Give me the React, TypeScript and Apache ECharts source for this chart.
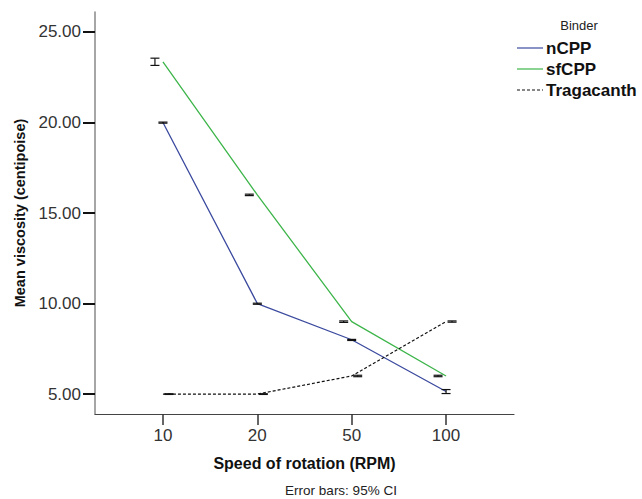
import React, { useEffect, useRef } from "react";
import * as echarts from "echarts";

const categories = ["10", "20", "50", "100"];
const seriesNames = ["nCPP", "sfCPP", "Tragacanth"];
const nCPP = [20.0, 10.0, 8.0, 5.14];
const sfCPP = [23.35, 16.0, 9.0, 6.0];
const tragacanth = [5.0, 5.0, 6.0, 9.0];
const nCPPLow = [19.96, 9.96, 7.96, 5.03];
const nCPPHigh = [20.02, 10.02, 8.02, 5.25];
const sfCPPLow = [23.15, 15.96, 8.96, 5.96];
const sfCPPHigh = [23.55, 16.04, 9.04, 6.04];
const tragLow = [4.98, 4.98, 5.96, 8.97];
const tragHigh = [5.02, 5.02, 6.04, 9.04];
const yTicks = [5, 10, 15, 20, 25];

const colors = ["#3b4a9e", "#3db54a", "#111111"];
const errOffsets = [0, -8, 6];
const FONT = "'Liberation Sans', Arial, sans-serif";

export default function App() {
  const ref = useRef<HTMLDivElement>(null);
  useEffect(() => {
    if (!ref.current) return;
    const chart = echarts.init(ref.current, null, { renderer: "svg" });
    const means = [nCPP, sfCPP, tragacanth];
    const lows = [nCPPLow, sfCPPLow, tragLow];
    const highs = [nCPPHigh, sfCPPHigh, tragHigh];

    const lineSeries = seriesNames.map((name, i) => ({
      type: "line",
      name,
      data: means[i].map((v, j) => [j, v]),
      symbol: "none",
      lineStyle: {
        color: colors[i],
        width: i === 2 ? 1.2 : 1.3,
        type: i === 2 ? [3, 2] : "solid",
      },
      z: 2,
    }));

    const errSeries = seriesNames.map((name, i) => ({
      type: "custom",
      name: name + " CI",
      data: lows[i].map((lo, j) => [j, lo, highs[i][j]]),
      encode: { x: 0, y: [1, 2] },
      z: 3,
      renderItem: (params: any, api: any) => {
        const x = api.value(0);
        const pLo = api.coord([x, api.value(1)]);
        const pHi = api.coord([x, api.value(2)]);
        const cx = pLo[0] + errOffsets[i];
        const hw = 4.5;
        const st = { stroke: "#111", lineWidth: 1.2 };
        return {
          type: "group",
          children: [
            { type: "line", shape: { x1: cx, y1: pLo[1], x2: cx, y2: pHi[1] }, style: st },
            { type: "line", shape: { x1: cx - hw, y1: pLo[1], x2: cx + hw, y2: pLo[1] }, style: st },
            { type: "line", shape: { x1: cx - hw, y1: pHi[1], x2: cx + hw, y2: pHi[1] }, style: st },
          ],
        };
      },
    }));

    const legendGraphics: any[] = [
      {
        type: "text",
        x: 579,
        y: 25,
        style: { text: "Binder", font: `13px ${FONT}`, fill: "#222", align: "center", verticalAlign: "middle" },
      },
    ];
    seriesNames.forEach((name, i) => {
      const y = 48 + i * 21;
      legendGraphics.push({
        type: "line",
        shape: { x1: 517, y1: y, x2: 543, y2: y },
        style: { stroke: colors[i], lineWidth: 1.2, lineDash: i === 2 ? [3, 2] : null },
      });
      legendGraphics.push({
        type: "text",
        x: 546,
        y: y,
        style: {
          text: name,
          font: `bold 17px ${FONT}`,
          fill: "#111",
          verticalAlign: "middle",
        },
      });
    });
    legendGraphics.push({
      type: "text",
      x: 341,
      y: 490,
      style: {
        text: "Error bars: 95% CI",
        font: `13.5px ${FONT}`,
        fill: "#222",
        align: "center",
        verticalAlign: "middle",
      },
    });

    chart.setOption({
      animation: false,
      backgroundColor: "#ffffff",
      grid: { left: 95, right: 128, top: 12, bottom: 85, containLabel: false },
      xAxis: {
        type: "value",
        min: -0.72,
        max: 3.72,
        name: "Speed of rotation (RPM)",
        nameLocation: "middle",
        nameGap: 41,
        nameTextStyle: { fontFamily: FONT, fontWeight: "bold", fontSize: 16, color: "#111" },
        axisLine: { onZero: false, lineStyle: { color: "#444", width: 1.2 } },
        axisTick: { show: true, customValues: [0, 1, 2, 3], length: 11, lineStyle: { color: "#333", width: 1.5 } },
        axisLabel: {
          customValues: [0, 1, 2, 3],
          formatter: (v: number) => categories[Math.round(v)] ?? "",
          fontFamily: FONT,
          fontSize: 17,
          color: "#333",
          margin: 13,
        },
        splitLine: { show: false },
      },
      yAxis: {
        type: "value",
        min: 3.9,
        max: 26.1,
        name: "Mean viscosity (centipoise)",
        nameLocation: "middle",
        nameGap: 64,
        nameTextStyle: { fontFamily: FONT, fontWeight: "bold", fontSize: 14.5, color: "#111" },
        axisLine: { show: true, onZero: false, lineStyle: { color: "#888", width: 1.5 } },
        axisTick: { show: true, customValues: yTicks, length: 12, lineStyle: { color: "#111", width: 2 } },
        axisLabel: {
          customValues: yTicks,
          formatter: (v: number) => v.toFixed(2),
          fontFamily: FONT,
          fontSize: 17,
          color: "#333",
          margin: 14,
        },
        splitLine: { show: false },
      },
      series: [...lineSeries, ...errSeries],
      graphic: legendGraphics,
    });
    return () => chart.dispose();
  }, []);
  return (
    <div
      ref={ref}
      style={{ position: "fixed", left: 0, top: 0, width: 642, height: 499, background: "#fff" }}
    />
  );
}
